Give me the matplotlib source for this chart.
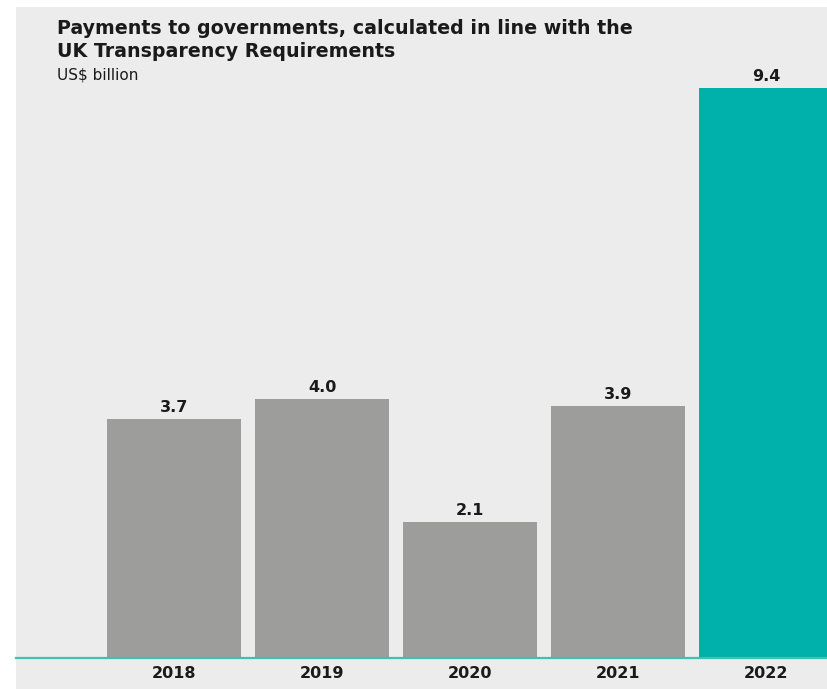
import matplotlib.pyplot as plt
from matplotlib.patches import Rectangle

# ------------------------------------------------------------------
# Data
# ------------------------------------------------------------------
years = ["2018", "2019", "2020", "2021", "2022"]
values = [3.7, 4.0, 2.1, 3.9, 9.4]
labels = ["3.7", "4.0", "2.1", "3.9", "9.4"]

grey = "#9d9d9b"
teal = "#00b0aa"
bg = "#ececec"
txt = "#1a1a1a"

W, H = 827, 689
fig = plt.figure(figsize=(W / 100, H / 100), dpi=100)
fig.patch.set_facecolor("white")

# grey panel behind the chart
fig.patches.append(Rectangle((16 / W, 0), 1 - 16 / W, 1 - 7 / H,
                             transform=fig.transFigure, facecolor=bg,
                             edgecolor="none", zorder=-5))

ax = fig.add_axes([16 / W, 31 / H, 1 - 16 / W, (658 - 88) / H])
ax.set_facecolor("none")
ax.set_zorder(2)

colors = [grey] * 4 + [teal]
x = list(range(len(years)))
bars = ax.bar(x, values, width=0.905, color=colors, zorder=2)

ax.set_xlim(-1.068, 4.41)
ax.set_ylim(0, 8.82)   # top bar runs past the frame, as in the original

for xi, v, lab in zip(x, values, labels):
    y = min(v, 8.82)
    ax.annotate(lab, (xi, y), xytext=(0, 3), textcoords="offset points",
                ha="center", va="bottom", fontsize=11.5, fontweight="bold",
                color=txt, annotation_clip=False, clip_on=False)

# teal baseline
ax.axhline(0, color="#45bcb7", linewidth=1.6, zorder=3, clip_on=False)

ax.set_xticks(x)
ax.set_xticklabels(years, fontsize=11.5, fontweight="bold", color=txt)
ax.tick_params(axis="x", length=0, pad=6)
ax.set_yticks([])
for s in ax.spines.values():
    s.set_visible(False)

# ------------------------------------------------------------------
# Titles
# ------------------------------------------------------------------
fig.text(57 / W, 1 - 19 / H,
         "Payments to governments, calculated in line with the\nUK Transparency Requirements",
         ha="left", va="top", fontsize=13.7, fontweight="bold", color=txt,
         linespacing=1.25)
fig.text(57 / W, 1 - 67 / H, "US$ billion", ha="left", va="top",
         fontsize=11, color=txt)

fig.savefig("out.png", dpi=100)
